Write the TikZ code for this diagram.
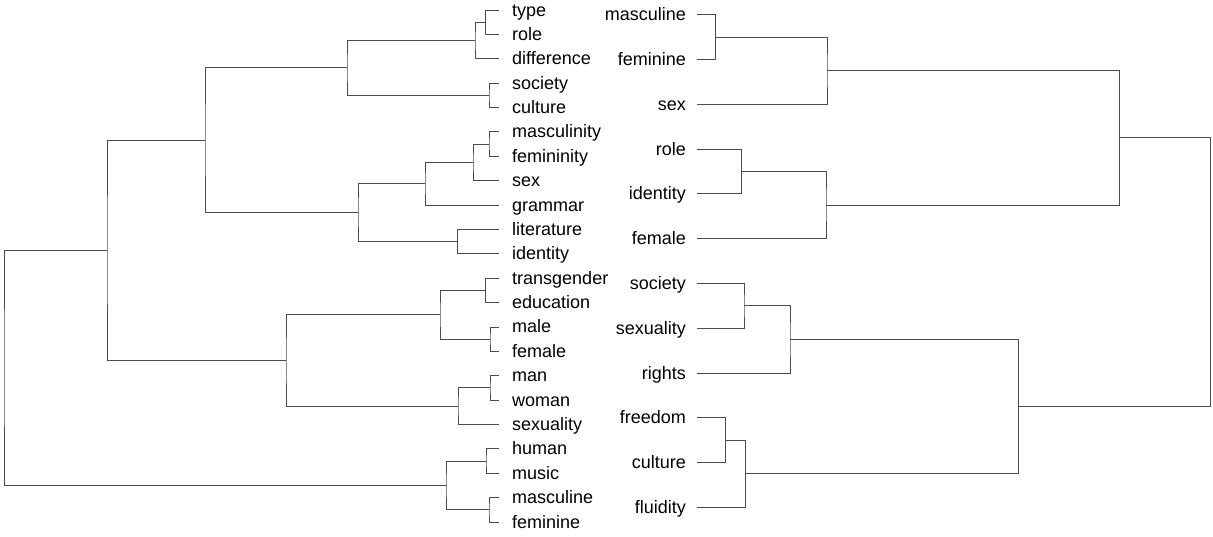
\documentclass[tikz,border=0pt]{standalone}
\usepackage{fontspec}
\setmainfont{Liberation Sans}
\usetikzlibrary{positioning}
\definecolor{branch}{RGB}{75,75,75}

\begin{document}
\begin{tikzpicture}[
  x=1pt, y=-1pt,
  word/.style={inner sep=0pt, font=\fontsize{18}{21}\selectfont,
               text height=13pt, text depth=1pt},
  link/.style={draw=branch, line width=0.9pt}
]
\useasboundingbox (0,0) rectangle (1213,536);

% left tree: leaves and labels
\foreach \w [count=\i] in {type,role,difference,society,culture,masculinity,femininity,sex,grammar,literature,identity,transgender,education,male,female,man,woman,sexuality,human,music,masculine,feminine} {
  \coordinate (L\i) at (499,{10+(\i-1)*24.381});
  \node[word, right=13pt of L\i] (lw\i) {\w};
}

% left tree: merges
\coordinate (a1) at (485.5,22.2);
\coordinate (a2) at (475,40.5);
\coordinate (a3) at (489,95.3);
\coordinate (a4) at (347,67.9);
\coordinate (a5) at (489,144.1);
\coordinate (a6) at (473,162.4);
\coordinate (a7) at (425,183.7);
\coordinate (a8) at (457.5,241.6);
\coordinate (a9) at (358,212.7);
\coordinate (a10) at (205,140.3);
\coordinate (b1) at (485.6,290.4);
\coordinate (b2) at (490,339.1);
\coordinate (b3) at (440,314.8);
\coordinate (b4) at (490,387.9);
\coordinate (b5) at (458,406.2);
\coordinate (b6) at (286,360.5);
\coordinate (b7) at (107,250.4);
\coordinate (c1) at (486,461);
\coordinate (c2) at (489,509.8);
\coordinate (c3) at (446,485.4);
\coordinate (lroot) at (4,367.9);

\draw[link] (L1) -| (a1) |- (L2);
\draw[link] (a1) -| (a2) |- (L3);
\draw[link] (L4) -| (a3) |- (L5);
\draw[link] (a2) -| (a4) |- (a3);
\draw[link] (L6) -| (a5) |- (L7);
\draw[link] (a5) -| (a6) |- (L8);
\draw[link] (a6) -| (a7) |- (L9);
\draw[link] (L10) -| (a8) |- (L11);
\draw[link] (a7) -| (a9) |- (a8);
\draw[link] (a4) -| (a10) |- (a9);
\draw[link] (L12) -| (b1) |- (L13);
\draw[link] (L14) -| (b2) |- (L15);
\draw[link] (b1) -| (b3) |- (b2);
\draw[link] (L16) -| (b4) |- (L17);
\draw[link] (b4) -| (b5) |- (L18);
\draw[link] (b3) -| (b6) |- (b5);
\draw[link] (a10) -| (b7) |- (b6);
\draw[link] (L19) -| (c1) |- (L20);
\draw[link] (L21) -| (c2) |- (L22);
\draw[link] (c1) -| (c3) |- (c2);
\draw[link] (b7) -| (lroot) |- (c3);

% right tree: leaves and labels
\foreach \w [count=\i] in {masculine,feminine,sex,role,identity,female,society,sexuality,rights,freedom,culture,fluidity} {
  \coordinate (R\i) at (697,{14.7+(\i-1)*44.8});
  \node[word, left=11pt of R\i] (rw\i) {\w};
}

% right tree: merges
\coordinate (r1) at (715.5,37.1);
\coordinate (r2) at (827,70.7);
\coordinate (r3) at (741.5,171.5);
\coordinate (r4) at (826,205.1);
\coordinate (r5) at (1119,137.9);
\coordinate (r6) at (744,305.9);
\coordinate (r7) at (790,339.5);
\coordinate (r8) at (725.5,440.3);
\coordinate (r9) at (745.4,473.9);
\coordinate (r10) at (1018.7,406.7);
\coordinate (rroot) at (1210.6,272.3);

\draw[link] (R1) -| (r1) |- (R2);
\draw[link] (r1) -| (r2) |- (R3);
\draw[link] (R4) -| (r3) |- (R5);
\draw[link] (r3) -| (r4) |- (R6);
\draw[link] (r2) -| (r5) |- (r4);
\draw[link] (R7) -| (r6) |- (R8);
\draw[link] (r6) -| (r7) |- (R9);
\draw[link] (R10) -| (r8) |- (R11);
\draw[link] (r8) -| (r9) |- (R12);
\draw[link] (r7) -| (r10) |- (r9);
\draw[link] (r5) -| (rroot) |- (r10);
\end{tikzpicture}
\end{document}
